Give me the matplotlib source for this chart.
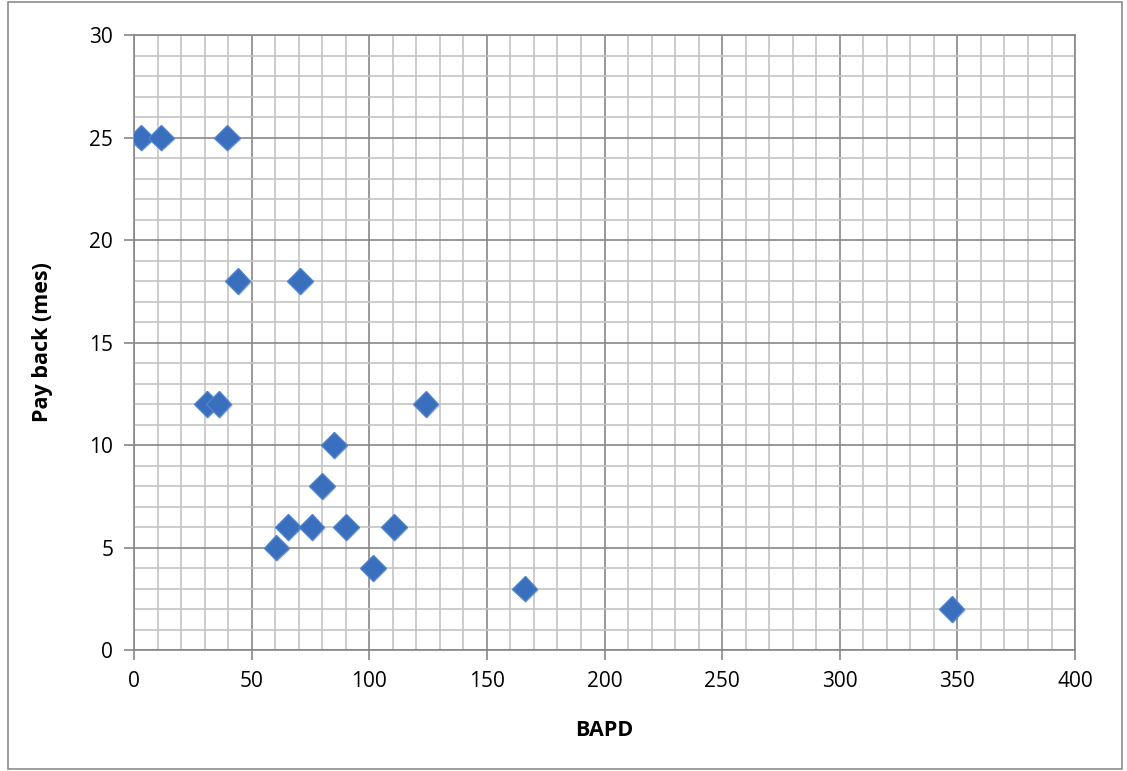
import numpy as np
import matplotlib.pyplot as plt
from matplotlib.ticker import MultipleLocator
import matplotlib.patheffects as pe
from matplotlib.patches import Rectangle

# data
bapd = [3, 11.5, 39.5, 44, 70.5, 31, 36, 124, 85, 80, 60.5, 65.5, 75.5, 90, 110.5, 101.5, 166, 347.5]
payback = [25, 25, 25, 18, 18, 12, 12, 12, 10, 8, 5, 6, 6, 6, 6, 4, 3, 2]

plt.rcParams['font.family'] = ['Open Sans', 'DejaVu Sans']

fig = plt.figure(figsize=(11.27, 7.71), dpi=100)
ax = fig.add_axes([0.1189, 0.1569, 0.8350, 0.7977])

# outer chart border
fig.patches.append(Rectangle((0.007, 0.002), 0.989, 0.996, transform=fig.transFigure,
                             fill=False, edgecolor='#8c8c8c', linewidth=1.2))

ax.set_xlim(0, 400)
ax.set_ylim(0, 30)
ax.xaxis.set_major_locator(MultipleLocator(50))
ax.xaxis.set_minor_locator(MultipleLocator(10))
ax.yaxis.set_major_locator(MultipleLocator(5))
ax.yaxis.set_minor_locator(MultipleLocator(1))
ax.grid(which='minor', color='#c4c4c4', linewidth=1.2)
ax.grid(which='major', color='#878787', linewidth=1.2)
ax.set_axisbelow(True)
for s in ax.spines.values():
    s.set_color('#878787')
    s.set_linewidth(1.2)
ax.tick_params(which='major', length=7, width=1.2, color='#878787', labelsize=15, pad=8)
ax.tick_params(which='minor', length=0)

ax.plot(bapd, payback, linestyle='none', marker='D', markersize=13,
        markerfacecolor='#3A6FBD', markeredgecolor='#4F82CC', markeredgewidth=1,
        path_effects=[pe.SimplePatchShadow(offset=(1, -1.5), alpha=0.18, shadow_rgbFace='#333333'), pe.Normal()],
        zorder=3)

ax.set_xlabel('BAPD', fontsize=15.5, fontweight='bold', labelpad=20)
ax.set_ylabel('Pay back (mes)', fontsize=15.5, fontweight='bold', labelpad=26)

fig.savefig('out.png', dpi=100)
